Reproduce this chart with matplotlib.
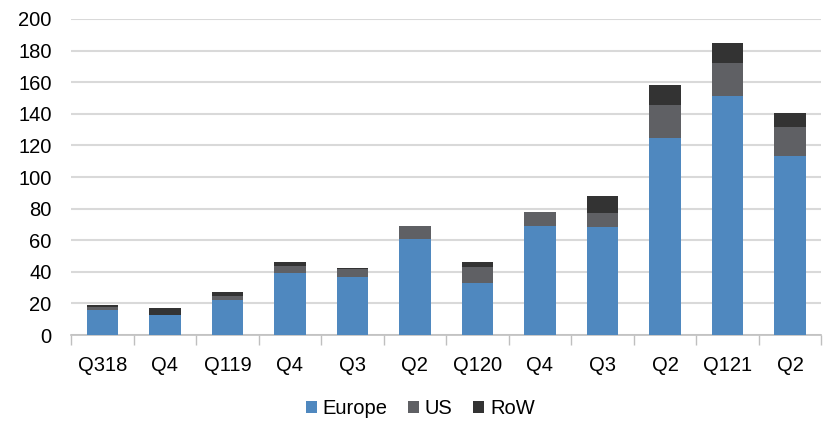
import matplotlib
matplotlib.use("Agg")
import matplotlib.pyplot as plt
import numpy as np

plt.rcParams['font.family'] = ['Liberation Sans', 'DejaVu Sans']

categories = ["Q318", "Q4", "Q119", "Q4", "Q3", "Q2", "Q120", "Q4", "Q3", "Q2", "Q121", "Q2"]
europe = [16, 12.5, 22, 39, 37, 61, 33, 69, 68.5, 125, 151, 113]
us = [1.5, 0.5, 3, 4.5, 5, 8, 10, 9, 9, 20.5, 21, 18.5]
row = [1.5, 4, 2, 3, 0.5, 0, 3.5, 0, 10.5, 13, 12.5, 9]
yticks = [0, 20, 40, 60, 80, 100, 120, 140, 160, 180, 200]

c_eu = "#4F88BF"
c_us = "#5F6064"
c_row = "#333333"

fig = plt.figure(figsize=(8.27, 4.21), dpi=100)
ax = fig.add_axes([0.086, 0.204, 0.907, 0.751])

x = np.arange(len(categories))
eu = np.array(europe)
u = np.array(us)
r = np.array(row)
w = 0.5
ax.bar(x, eu, w, color=c_eu, label="Europe", zorder=3)
ax.bar(x, u, w, bottom=eu, color=c_us, label="US", zorder=3)
ax.bar(x, r, w, bottom=eu + u, color=c_row, label="RoW", zorder=3)

ax.set_ylim(0, 200)
ax.set_xlim(-0.5, len(categories) - 0.5)
ax.set_yticks(yticks)
ax.yaxis.grid(True, color="#D9D9D9", linewidth=1.5, zorder=0)
ax.tick_params(axis='y', length=0, labelsize=14.5, pad=14)

ax.set_xticks(x)
ax.set_xticklabels(categories, fontsize=14.5)
ax.tick_params(axis='x', length=0, pad=15)
ax.set_xticks(np.arange(len(categories) + 1) - 0.5, minor=True)
ax.tick_params(axis='x', which='minor', length=7, color="#BFBFBF", width=1)

for s in ["top", "right", "left"]:
    ax.spines[s].set_visible(False)
ax.spines["bottom"].set_color("#BFBFBF")
ax.spines["bottom"].set_linewidth(1.2)

fig.legend(loc="center", bbox_to_anchor=(0.508, 0.03), ncol=3, frameon=False,
           fontsize=14.5, handlelength=0.55, handleheight=0.55, handletextpad=0.3,
           columnspacing=1.0, borderaxespad=0)

fig.savefig("out.png", dpi=100)
